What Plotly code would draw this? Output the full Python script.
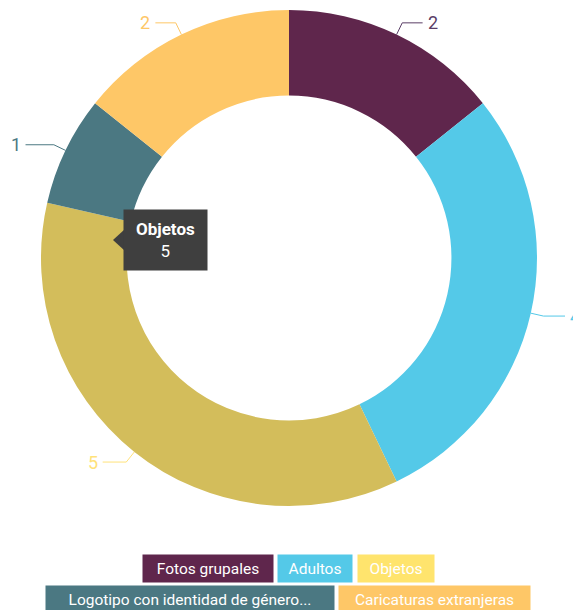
import math
import plotly.graph_objects as go

# ---- data ----
categories = ["Fotos grupales", "Adultos", "Objetos",
              "Logotipo con identidad de género...", "Caricaturas extranjeras"]
values = [2, 4, 5, 1, 2]
slice_colors = ["#5f264c", "#54c9e8", "#d3bd5b", "#4b7882", "#fec767"]
legend_colors = ["#5f264c", "#54c9e8", "#ffe46d", "#4b7882", "#fec767"]
label_colors = ["#5a3d66", "#54c9e8", "#ffe27a", "#4b7882", "#fec767"]

W, H = 581, 610
OFF = 8  # page body margin offset of the plot div
FONT = "Roboto, Liberation Sans, sans-serif"

# pie geometry (window pixels)
CX, CY, R = 289, 258, 248
HOLE = 0.655


def px(x):
    return (x - OFF) / W


def py(y):
    return 1 - (y - OFF) / H


fig = go.Figure(go.Pie(
    labels=categories,
    values=values,
    sort=False,
    direction="clockwise",
    rotation=0,
    hole=HOLE,
    marker=dict(colors=slice_colors, line=dict(width=0)),
    textinfo="none",
    hoverinfo="skip",
    showlegend=False,
    domain=dict(x=[px(CX - R), px(CX + R)], y=[py(CY + R), py(CY - R)]),
))

shapes = []
annotations = []

# data labels with connectors, derived from slice mid-angles
total = sum(values)
cum = 0
for cat, v, col in zip(categories, values, label_colors):
    mid = (cum + v / 2) / total * 2 * math.pi
    cum += v
    s, c = math.sin(mid), -math.cos(mid)
    x0, y0 = CX + R * s, CY + R * c
    x1, y1 = CX + (R + 13) * s, CY + (R + 13) * c
    sign = 1 if s >= 0 else -1
    x2 = CX + sign * ((R + 30) * abs(s) + 13)
    x2 = min(max(x2, 16), W - 16)  # keep the label inside the window
    shapes.append(dict(
        type="path", xref="paper", yref="paper",
        path=f"M {px(x0)},{py(y0)} L {px(x1)},{py(y1)} L {px(x2)},{py(y1)}",
        line=dict(color=col, width=1),
    ))
    annotations.append(dict(
        x=px(x2 + sign * 3), y=py(y1), xref="paper", yref="paper",
        text=str(v), showarrow=False,
        xanchor="left" if sign > 0 else "right", yanchor="middle",
        font=dict(family=FONT, size=18, color=col),
    ))

# tooltip
tt_x0, tt_x1, tt_y0, tt_y1 = 124, 207, 210, 270
tt_color = "#3f3f3f"
shapes.append(dict(
    type="path", xref="paper", yref="paper",
    path=f"M {px(tt_x0 + 1)},{py(229)} L {px(113)},{py(240)} L {px(tt_x0 + 1)},{py(251)} Z",
    fillcolor=tt_color, line=dict(width=0),
))
annotations.append(dict(
    x=px((tt_x0 + tt_x1) / 2), y=py((tt_y0 + tt_y1) / 2), xref="paper", yref="paper",
    text="<b>Objetos</b><br>5", showarrow=False,
    xanchor="center", yanchor="middle",
    width=tt_x1 - tt_x0, height=tt_y1 - tt_y0, borderpad=0,
    bgcolor=tt_color, align="center",
    font=dict(family=FONT, size=17, color="#ffffff"),
))

# legend (coloured boxes with white text)
legend_boxes = [
    (143, 273, 555, 582),
    (278, 352, 555, 582),
    (358, 434, 555, 582),
    (46, 334, 586, 613),
    (339, 530, 586, 613),
]
for cat, col, (bx0, bx1, by0, by1) in zip(categories, legend_colors, legend_boxes):
    annotations.append(dict(
        x=px((bx0 + bx1) / 2), y=py((by0 + by1) / 2), xref="paper", yref="paper",
        text=cat, showarrow=False, xanchor="center", yanchor="middle",
        width=bx1 - bx0, height=by1 - by0, borderpad=0,
        bgcolor=col, align="center",
        font=dict(family=FONT, size=15.5, color="#ffffff"),
    ))

fig.update_layout(
    width=W, height=H,
    margin=dict(l=0, r=0, t=0, b=0),
    paper_bgcolor="#ffffff",
    plot_bgcolor="#ffffff",
    shapes=shapes,
    annotations=annotations,
    font=dict(family=FONT),
)

fig.write_html("out.html")
